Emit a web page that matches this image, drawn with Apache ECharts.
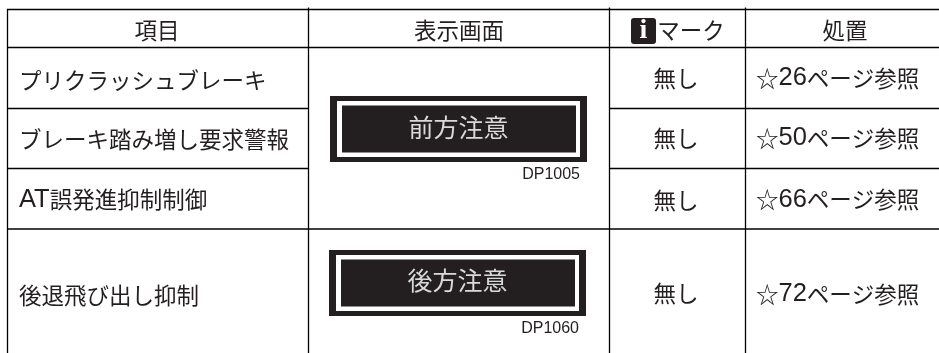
<!DOCTYPE html>
<html lang="ja">
<head>
<meta charset="utf-8">
<title>表示画面</title>
<style>html,body{margin:0;padding:0;background:#fff}#c{width:939px;height:353px}</style>
<script src="https://cdn.jsdelivr.net/npm/echarts@6/dist/echarts.min.js"></script>
</head>
<body>
<div id="c"></div>
<script>
// ---- content ----
const headers = ['項目', '表示画面', 'マーク', '処置'];
const items = ['プリクラッシュブレーキ', 'ブレーキ踏み増し要求警報', 'AT誤発進抑制制御', '後退飛び出し抑制'];
const marks = ['無し', '無し', '無し', '無し'];
const actions = ['☆26ページ参照', '☆50ページ参照', '☆66ページ参照', '☆72ページ参照'];
const displayTexts = ['前方注意', '後方注意'];
const displayCodes = ['DP1005', 'DP1060'];

// ---- layout (page units on the hidden axes) ----
const W = 939, H = 353;
const columnRules = [{x: 7.5, top: 9}, {x: 308.5, top: 7.5}, {x: 609.5, top: 7.5}, {x: 745.5, top: 7.5}];
const fullRules = [9.5, 47.5, 229];
const mergedRules = [108.5, 168.5];
const itemCentres = [80, 139, 201, 295];
const markCentres = [78.5, 138, 200, 293.5];
const actionCentres = [79.5, 139.5, 201, 295.5];
const latinRowLift = 1.5;
const headerCentres = [{x: 157, y: 30}, {x: 459, y: 30}, {x: 691, y: 30}, {x: 845, y: 30}];
const panelBoxes = [
  {x: 330, y: 96, w: 257, h: 66, textY: 127, codeRight: 580, codeY: 175},
  {x: 329, y: 250, w: 257, h: 66, textY: 280, codeRight: 579, codeY: 329}
];
const INK = '#231f20';
const CJK = '"Noto Sans CJK JP"';
const LATIN = '"Liberation Sans"';
const CELL_SIZE = 22.5, LATIN_SIZE = 25.5;

function lineEl(api, x1, y1, x2, y2) {
  const a = api.coord([x1, y1]), b = api.coord([x2, y2]);
  return {type: 'line', shape: {x1: a[0], y1: a[1], x2: b[0], y2: b[1]}, style: {stroke: '#000', lineWidth: 1.3}};
}
function rectEl(api, x, y, w, h, fill, r) {
  const a = api.coord([x, y]), b = api.coord([x + w, y + h]);
  return {type: 'rect', shape: {x: a[0], y: a[1], width: b[0] - a[0], height: b[1] - a[1], r: r || 0}, style: {fill: fill}};
}
function textEl(api, text, x, y, font, fill, align) {
  const a = api.coord([x, y]);
  return {type: 'text', style: {text: text, x: a[0], y: a[1], font: font, fill: fill, align: align || 'center', verticalAlign: 'middle'}};
}
// cell text: latin runs are set larger than the kana/kanji around them
function cellEl(api, text, x, y, align) {
  const hasLatin = /[A-Za-z0-9]/.test(text);
  const a = api.coord([x, hasLatin ? y - latinRowLift : y]);
  const marked = text.replace(/[A-Za-z0-9]+/g, m => '{l|' + m + '}').replace(/(^|})([^{}]+)(?={|$)/g, '$1{c|$2}');
  return {type: 'text', style: {
    text: marked, x: a[0], y: a[1], align: align || 'center', verticalAlign: 'middle',
    rich: {
      c: {fontFamily: CJK, fontSize: CELL_SIZE, fill: INK, lineHeight: 30},
      l: {fontFamily: LATIN, fontSize: LATIN_SIZE, fill: INK, lineHeight: 30}
    }
  }};
}

const option = {
  animation: false,
  backgroundColor: '#fff',
  grid: {left: 0, right: 0, top: 0, bottom: 0},
  xAxis: {type: 'value', min: 0, max: W, show: false},
  yAxis: {type: 'value', min: 0, max: H, inverse: true, show: false},
  series: [
    { // table rules
      type: 'custom', silent: true, z: 1,
      data: [[0, 0]],
      renderItem: function (p, api) {
        const ch = [];
        fullRules.forEach(y => ch.push(lineEl(api, 7, y, W, y)));
        mergedRules.forEach(y => {
          ch.push(lineEl(api, 7, y, columnRules[1].x, y));
          ch.push(lineEl(api, columnRules[2].x, y, W, y));
        });
        columnRules.forEach(c => ch.push(lineEl(api, c.x, c.top, c.x, H)));
        return {type: 'group', children: ch};
      }
    },
    { // display panels
      type: 'custom', silent: true, z: 2,
      data: displayTexts.map((t, i) => [panelBoxes[i].x, panelBoxes[i].y, t, displayCodes[i], i]),
      renderItem: function (p, api) {
        const i = p.dataIndex, b = panelBoxes[i];
        return {type: 'group', children: [
          rectEl(api, b.x, b.y, b.w, b.h, INK),
          rectEl(api, b.x + 7, b.y + 5, b.w - 14, b.h - 10, '#fff'),
          rectEl(api, b.x + 12, b.y + 9.5, b.w - 23, b.h - 19, INK),
          textEl(api, displayTexts[i], b.x + b.w / 2, b.textY, '25px ' + CJK, '#d9d9d9'),
          textEl(api, displayCodes[i], b.codeRight, b.codeY, '16px ' + LATIN, INK, 'right')
        ]};
      }
    },
    { // header cells
      type: 'custom', silent: true, z: 3,
      data: headers.map((h, i) => [headerCentres[i].x, headerCentres[i].y, h]),
      renderItem: function (p, api) {
        const c = headerCentres[p.dataIndex];
        return cellEl(api, headers[p.dataIndex], c.x, c.y);
      }
    },
    { // "i" mark in the header
      type: 'custom', silent: true, z: 3,
      data: [[631, 18]],
      renderItem: function (p, api) {
        return {type: 'group', children: [
          rectEl(api, 631, 18, 25, 26, INK, 3),
          textEl(api, 'i', 643.5, 31, 'bold 28px "Liberation Serif"', '#fff')
        ]};
      }
    },
    { // body cells
      type: 'custom', silent: true, z: 3,
      data: items.map((t, i) => [20, itemCentres[i], t, marks[i], actions[i]]),
      renderItem: function (p, api) {
        const i = p.dataIndex;
        return {type: 'group', children: [
          cellEl(api, items[i], 19, itemCentres[i], 'left'),
          cellEl(api, marks[i], 676, markCentres[i]),
          cellEl(api, actions[i], 756, actionCentres[i], 'left')
        ]};
      }
    }
  ]
};
echarts.init(document.getElementById('c'), null, {renderer: 'canvas'}).setOption(option);
</script>
</body>
</html>
